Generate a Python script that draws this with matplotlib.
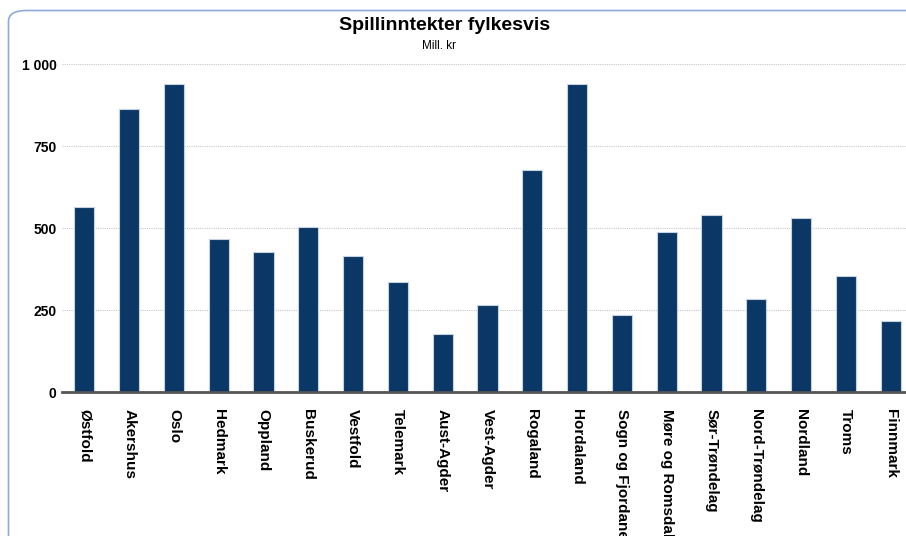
import matplotlib.pyplot as plt
from matplotlib.patches import FancyBboxPatch

fylker = ["Østfold", "Akershus", "Oslo", "Hedmark", "Oppland", "Buskerud",
          "Vestfold", "Telemark", "Aust-Agder", "Vest-Agder", "Rogaland",
          "Hordaland", "Sogn og Fjordane", "Møre og Romsdal", "Sør-Trøndelag",
          "Nord-Trøndelag", "Nordland", "Troms", "Finnmark"]
inntekter = [565, 864, 939, 467, 427, 504, 415, 335, 177, 266, 677, 939,
             234, 488, 540, 283, 531, 355, 217]
yticks = [0, 250, 500, 750, 1000]
ytick_labels = ["0", "250", "500", "750", "1 000"]

plt.rcParams['font.family'] = ['Liberation Sans', 'DejaVu Sans']

fig = plt.figure(figsize=(9.06, 5.36), dpi=100)

# rounded frame, partly cut off at right/bottom like the original
frame = FancyBboxPatch((8.5 / 906, -0.2), 1.2, 1.2 - 10.5 / 536,
                       boxstyle="round,pad=0,rounding_size=0.02",
                       transform=fig.transFigure, facecolor='none',
                       edgecolor='#8eaad8', linewidth=1.2)
fig.patches.append(frame)

ax = fig.add_axes([62 / 906, 144 / 536, (913 - 62) / 906, (392 - 64) / 536])

x = range(len(fylker))
ax.bar(x, inntekter, width=0.45, color='#0a3765', edgecolor='#c5d2e3',
       linewidth=0.8, zorder=3)

ax.set_xlim(-0.5, len(fylker) - 0.5)
ax.set_ylim(0, 1000)
ax.set_yticks(yticks)
ax.set_yticklabels(ytick_labels, fontsize=10, fontweight='bold')
ax.set_xticks(list(x))
ax.set_xticklabels(fylker, rotation=-90, fontsize=11, fontweight='bold',
                   va='top', ha='center')
ax.tick_params(axis='both', length=0)
ax.tick_params(axis='x', pad=12)
ax.tick_params(axis='y', pad=4)

ax.grid(axis='y', linestyle=(0, (1, 1)), color='#c8c8c8', linewidth=0.8, zorder=0)
for s in ['top', 'right', 'left']:
    ax.spines[s].set_visible(False)
ax.spines['bottom'].set_color('#555555')
ax.spines['bottom'].set_linewidth(2)
ax.spines['bottom'].set_zorder(4)

fig.text(444.5 / 906, 1 - 25 / 536, "Spillinntekter fylkesvis", ha='center',
         va='center', fontsize=14, fontweight='bold')
fig.text(439 / 906, 1 - 46 / 536, "Mill. kr", ha='center', va='center',
         fontsize=8.5)

fig.savefig("out.png", dpi=100)
